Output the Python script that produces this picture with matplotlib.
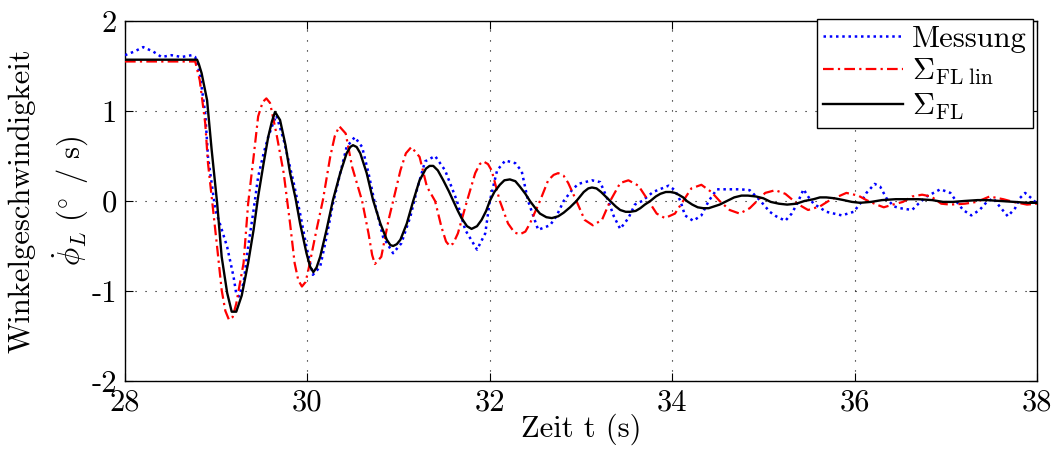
import matplotlib
matplotlib.use("Agg")
import matplotlib.pyplot as plt

plt.rcParams['font.family'] = ['cmr10', 'DejaVu Serif']
plt.rcParams['mathtext.fontset'] = 'cm'
plt.rcParams['axes.unicode_minus'] = False

# Messung (measured angular rate)
t_mess = [28.00, 28.10, 28.20, 28.31, 28.40, 28.51, 28.62, 28.73, 28.77, 28.82, 28.88,
          28.91, 28.95, 28.99, 29.04, 29.12, 29.19, 29.22, 29.25, 29.30, 29.35, 29.41,
          29.46, 29.52, 29.57, 29.63, 29.66, 29.74, 29.85, 29.92, 29.99, 30.06, 30.14,
          30.21, 30.28, 30.36, 30.43, 30.52, 30.60, 30.67, 30.74, 30.83, 30.94, 31.03,
          31.13, 31.20, 31.29, 31.40, 31.51, 31.64, 31.73, 31.86, 31.95, 32.00, 32.08,
          32.17, 32.28, 32.35, 32.42, 32.53, 32.66, 32.73, 32.81, 32.90, 32.97, 33.12,
          33.21, 33.30, 33.36, 33.43, 33.52, 33.59, 33.67, 33.79, 33.96, 34.03, 34.09,
          34.14, 34.23, 34.32, 34.40, 34.49, 34.62, 34.75, 34.85, 34.96, 35.07, 35.14,
          35.24, 35.31, 35.37, 35.44, 35.49, 35.55, 35.69, 35.86, 35.99, 36.06, 36.13,
          36.22, 36.28, 36.35, 36.43, 36.50, 36.63, 36.70, 36.79, 36.94, 37.05, 37.12,
          37.19, 37.28, 37.37, 37.45, 37.52, 37.59, 37.68, 37.76, 37.81, 37.87, 37.94,
          38.00]
v_mess = [1.62, 1.66, 1.71, 1.66, 1.60, 1.62, 1.60, 1.62, 1.60, 1.42, 0.97,
          0.49, 0.20, -0.10, -0.25, -0.51, -0.84, -1.03, -1.06, -0.91, -0.51, -0.10,
          0.27, 0.53, 0.71, 0.88, 0.95, 0.68, 0.20, -0.14, -0.51, -0.82, -0.73,
          -0.40, -0.03, 0.31, 0.60, 0.71, 0.60, 0.31, -0.03, -0.40, -0.58, -0.47,
          -0.17, 0.12, 0.44, 0.50, 0.34, 0.00, -0.32, -0.54, -0.36, 0.00, 0.34,
          0.45, 0.42, 0.33, 0.00, -0.32, -0.27, -0.17, 0.00, 0.12, 0.19, 0.23,
          0.21, 0.00, -0.17, -0.31, -0.19, -0.04, 0.00, 0.10, 0.17, 0.12, 0.00,
          -0.16, -0.22, -0.16, 0.00, 0.13, 0.13, 0.13, 0.12, 0.01, -0.12, -0.17,
          -0.22, -0.14, -0.03, 0.13, 0.05, -0.03, -0.12, -0.16, -0.12, -0.03, 0.09,
          0.19, 0.16, 0.03, -0.06, -0.08, -0.10, -0.03, 0.05, 0.13, 0.09, -0.01,
          -0.10, -0.16, -0.10, -0.01, 0.03, -0.06, -0.17, -0.08, 0.03, 0.09, 0.03,
          -0.03]

# Summe FL, linearisiert
t_lin = [28.00, 28.40, 28.77, 28.82, 28.88, 28.91, 28.95, 29.01, 29.06, 29.10, 29.14,
         29.18, 29.22, 29.30, 29.35, 29.41, 29.46, 29.51, 29.55, 29.59, 29.66, 29.74,
         29.81, 29.86, 29.90, 29.94, 29.98, 30.01, 30.10, 30.17, 30.25, 30.30, 30.35,
         30.42, 30.49, 30.60, 30.67, 30.71, 30.74, 30.81, 30.89, 30.94, 31.02, 31.08,
         31.14, 31.23, 31.31, 31.40, 31.47, 31.52, 31.56, 31.60, 31.65, 31.75, 31.84,
         31.89, 31.93, 31.98, 32.02, 32.11, 32.20, 32.27, 32.33, 32.39, 32.44, 32.55,
         32.64, 32.70, 32.75, 32.81, 32.86, 32.95, 33.04, 33.13, 33.23, 33.32, 33.43,
         33.52, 33.63, 33.74, 33.83, 33.92, 34.03, 34.12, 34.21, 34.32, 34.43, 34.52,
         34.63, 34.74, 34.85, 34.93, 35.02, 35.13, 35.24, 35.37, 35.49, 35.62, 35.73,
         35.91, 36.04, 36.13, 36.24, 36.32, 36.42, 36.53, 36.63, 36.74, 36.84, 36.95,
         37.05, 37.21, 37.34, 37.48, 37.63, 37.74, 37.89, 38.00]
v_lin = [1.55, 1.55, 1.55, 1.34, 0.86, 0.42, 0.05, -0.51, -0.99, -1.22, -1.32,
         -1.29, -1.14, -0.69, -0.03, 0.49, 0.94, 1.10, 1.14, 1.09, 0.75, 0.31,
         -0.25, -0.69, -0.88, -0.95, -0.90, -0.77, -0.32, 0.01, 0.49, 0.72, 0.83,
         0.75, 0.38, 0.00, -0.36, -0.60, -0.70, -0.62, -0.21, 0.00, 0.34, 0.53,
         0.60, 0.49, 0.16, 0.00, -0.29, -0.45, -0.50, -0.47, -0.36, 0.00, 0.31,
         0.41, 0.44, 0.41, 0.34, 0.00, -0.25, -0.35, -0.37, -0.34, -0.25, 0.00,
         0.23, 0.29, 0.31, 0.28, 0.20, 0.00, -0.21, -0.27, -0.21, 0.00, 0.20,
         0.23, 0.17, 0.00, -0.14, -0.19, -0.14, 0.00, 0.14, 0.18, 0.10, 0.00,
         -0.10, -0.14, -0.08, 0.00, 0.09, 0.12, 0.08, -0.03, -0.10, -0.06, 0.01,
         0.09, 0.06, 0.01, -0.04, -0.07, -0.04, -0.01, 0.05, 0.07, 0.05, -0.03,
         -0.04, -0.03, -0.01, 0.05, 0.02, -0.01, -0.04, -0.03]

# Summe FL
t_fl = [28.00, 28.40, 28.79, 28.81, 28.84, 28.90, 28.95, 29.01, 29.06, 29.12, 29.17,
        29.22, 29.28, 29.35, 29.41, 29.46, 29.52, 29.57, 29.61, 29.645, 29.70, 29.76,
        29.81, 29.87, 29.92, 29.99, 30.03, 30.065, 30.10, 30.14, 30.21, 30.28, 30.36,
        30.43, 30.47, 30.50, 30.54, 30.58, 30.65, 30.72, 30.80, 30.87, 30.91, 30.94,
        30.98, 31.02, 31.09, 31.16, 31.23, 31.30, 31.34, 31.38, 31.43, 31.49, 31.55,
        31.60, 31.65, 31.69, 31.75, 31.80, 31.86, 31.91, 31.96, 32.00, 32.05, 32.11,
        32.16, 32.22, 32.28, 32.33, 32.39, 32.44, 32.50, 32.55, 32.62, 32.68, 32.75,
        32.81, 32.88, 32.95, 33.03, 33.08, 33.12, 33.17, 33.22, 33.27, 33.32, 33.38,
        33.43, 33.49, 33.54, 33.60, 33.65, 33.70, 33.76, 33.82, 33.87, 33.93, 33.98,
        34.03, 34.07, 34.12, 34.16, 34.22, 34.28, 34.34, 34.40, 34.46, 34.52, 34.60,
        34.68, 34.76, 34.83, 34.92, 35.00, 35.08, 35.17, 35.26, 35.36, 35.45, 35.55,
        35.62, 35.69, 35.78, 35.88, 35.97, 36.06, 36.18, 36.30, 36.45, 36.57, 36.70,
        36.85, 36.97, 37.08, 37.20, 37.35, 37.45, 37.60, 37.75, 37.90, 38.00]
v_fl = [1.57, 1.57, 1.57, 1.52, 1.42, 1.12, 0.57, -0.02, -0.62, -1.02, -1.23,
        -1.23, -1.05, -0.69, -0.32, 0.05, 0.42, 0.71, 0.88, 0.99, 0.90, 0.62,
        0.31, 0.03, -0.25, -0.58, -0.73, -0.79, -0.74, -0.62, -0.32, 0.01, 0.31,
        0.53, 0.60, 0.62, 0.60, 0.53, 0.31, 0.01, -0.25, -0.43, -0.49, -0.50,
        -0.48, -0.43, -0.25, 0.00, 0.23, 0.36, 0.39, 0.39, 0.34, 0.23, 0.11,
        0.00, -0.11, -0.19, -0.28, -0.31, -0.28, -0.21, -0.11, 0.00, 0.10, 0.18,
        0.23, 0.24, 0.22, 0.16, 0.08, 0.00, -0.08, -0.14, -0.18, -0.19, -0.17,
        -0.13, -0.07, 0.00, 0.10, 0.14, 0.15, 0.14, 0.10, 0.05, 0.00, -0.06,
        -0.10, -0.12, -0.12, -0.11, -0.08, -0.04, 0.00, 0.05, 0.08, 0.10, 0.10,
        0.09, 0.07, 0.04, 0.00, -0.04, -0.07, -0.08, -0.08, -0.06, -0.04, 0.00,
        0.04, 0.06, 0.06, 0.05, 0.03, -0.01, -0.03, -0.04, -0.03, 0.00, 0.02,
        0.04, 0.04, 0.03, 0.01, -0.01, -0.02, -0.01, 0.01, 0.02, 0.02, 0.02,
        0.01, -0.01, -0.01, 0.00, 0.01, 0.01, 0.00, -0.01, -0.02, -0.02]

x_ticks = [28, 30, 32, 34, 36, 38]
x_ticklabels = ['28', '30', '32', '34', '36', '38']
y_ticks = [-2, -1, 0, 1, 2]
y_ticklabels = ['-2', '-1', '0', '1', '2']

fs = 22

fig = plt.figure(figsize=(10.6, 4.5), dpi=100)
ax = fig.add_axes([125 / 1060, 1 - 381 / 450, (1037 - 125) / 1060, 360 / 450])

ax.plot(t_mess, v_mess, color='#0000ff', lw=1.8, dashes=(1.0, 1.5),
        label='Messung', zorder=3)
ax.plot(t_lin, v_lin, color='#ff0000', lw=1.6, dashes=(4.8, 1.9, 1.0, 1.9),
        label=r'$\Sigma_{\mathrm{FL\ lin}}$', zorder=3)
ax.plot(t_fl, v_fl, color='black', lw=1.7, label=r'$\Sigma_{\mathrm{FL}}$', zorder=4)

ax.set_xlim(28, 38)
ax.set_ylim(-2, 2)
ax.set_xticks(x_ticks)
ax.set_xticklabels(x_ticklabels)
ax.set_yticks(y_ticks)
ax.set_yticklabels(y_ticklabels)
ax.tick_params(direction='in', length=6, width=0.8, labelsize=fs,
               top=True, right=True, pad=6)
ax.grid(True, color='black', lw=0.8, dashes=(1, 8))
for s in ax.spines.values():
    s.set_linewidth(1.0)

ax.set_xlabel('Zeit t (s)', fontsize=fs, labelpad=-2)
ax.set_ylabel('Winkelgeschwindigkeit\n' + r'$\dot{\phi}_L\ (\!^\circ\ /\ \mathrm{s})$',
              fontsize=fs, multialignment='center', labelpad=0, linespacing=1.5)

leg = ax.legend(loc='upper right', bbox_to_anchor=(1033 / 1060, 1 - 19 / 450),
                bbox_transform=fig.transFigure, fontsize=fs, fancybox=False,
                framealpha=1, edgecolor='black', borderaxespad=0,
                handlelength=2.6, labelspacing=0.15, borderpad=0.2,
                handletextpad=0.3)
leg.get_frame().set_linewidth(1.0)

fig.savefig('out.png', dpi=100)
